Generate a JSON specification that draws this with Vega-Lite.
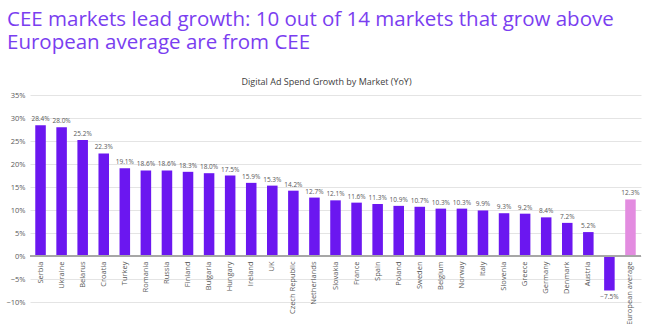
{
  "$schema": "https://vega.github.io/schema/vega-lite/v6.json",
  "width": 611,
  "height": 207,
  "autosize": "none",
  "padding": {"left": 30, "top": 95, "right": 14, "bottom": 22},
  "background": "white",
  "title": {
    "text": ["CEE markets lead growth: 10 out of 14 markets that grow above", "European average are from CEE"],
    "anchor": "start",
    "frame": "group",
    "color": "#7a3ef0",
    "font": "Open Sans",
    "fontSize": 20.5,
    "fontWeight": "normal",
    "lineHeight": 23,
    "baseline": "bottom",
    "dx": -23,
    "offset": 4
  },
  "config": {
    "view": {"stroke": null},
    "font": "Open Sans",
    "axis": {"labelColor": "#595959", "labelFont": "Open Sans", "titleFont": "Open Sans"}
  },
  "data": {
    "values": [
      {"market": "Serbia", "growth": 0.284, "kind": "market"},
      {"market": "Ukraine", "growth": 0.280, "kind": "market"},
      {"market": "Belarus", "growth": 0.252, "kind": "market"},
      {"market": "Croatia", "growth": 0.223, "kind": "market"},
      {"market": "Turkey", "growth": 0.191, "kind": "market"},
      {"market": "Romania", "growth": 0.186, "kind": "market"},
      {"market": "Russia", "growth": 0.186, "kind": "market"},
      {"market": "Finland", "growth": 0.183, "kind": "market"},
      {"market": "Bulgaria", "growth": 0.180, "kind": "market"},
      {"market": "Hungary", "growth": 0.175, "kind": "market"},
      {"market": "Ireland", "growth": 0.159, "kind": "market"},
      {"market": "UK", "growth": 0.153, "kind": "market"},
      {"market": "Czech Republic", "growth": 0.142, "kind": "market"},
      {"market": "Netherlands", "growth": 0.127, "kind": "market"},
      {"market": "Slovakia", "growth": 0.121, "kind": "market"},
      {"market": "France", "growth": 0.116, "kind": "market"},
      {"market": "Spain", "growth": 0.113, "kind": "market"},
      {"market": "Poland", "growth": 0.109, "kind": "market"},
      {"market": "Sweden", "growth": 0.107, "kind": "market"},
      {"market": "Belgium", "growth": 0.103, "kind": "market"},
      {"market": "Norway", "growth": 0.103, "kind": "market"},
      {"market": "Italy", "growth": 0.099, "kind": "market"},
      {"market": "Slovenia", "growth": 0.093, "kind": "market"},
      {"market": "Greece", "growth": 0.092, "kind": "market"},
      {"market": "Germany", "growth": 0.084, "kind": "market"},
      {"market": "Denmark", "growth": 0.072, "kind": "market"},
      {"market": "Austria", "growth": 0.052, "kind": "market"},
      {"market": "Switzerland", "growth": -0.075, "kind": "market"},
      {"market": "European average", "growth": 0.123, "kind": "average"}
    ]
  },
  "resolve": {"axis": {"x": "independent"}},
  "encoding": {
    "y": {
      "field": "growth", "type": "quantitative",
      "scale": {"domain": [-0.1, 0.35], "nice": false},
      "axis": {
        "title": null, "format": ".0%", "values": [-0.1, -0.05, 0, 0.05, 0.1, 0.15, 0.2, 0.25, 0.3, 0.35],
        "ticks": false, "domain": false, "labelFontSize": 7.5, "labelPadding": 5,
        "labelOverlap": false, "labelFlush": false,
        "gridColor": "#e4e4e4", "gridWidth": 1, "zindex": 0
      }
    }
  },
  "layer": [
    {
      "mark": {"type": "bar"},
      "encoding": {
        "x": {
          "field": "market", "type": "nominal", "sort": null,
          "scale": {"paddingInner": 0.5, "paddingOuter": 0.25},
          "axis": {
            "orient": "bottom", "offset": -46, "title": null, "labelAngle": -90,
            "labelFontSize": 7.5, "ticks": false, "domain": false, "labelPadding": 5,
            "zindex": 0,
            "labelExpr": "datum.label == 'Switzerland' ? '' : datum.label"
          }
        },
        "color": {
          "field": "kind", "type": "nominal",
          "scale": {"domain": ["market", "average"], "range": ["#6b17f0", "#e38ce0"]},
          "legend": null
        }
      }
    },
    {
      "mark": {"type": "rule", "color": "#a6a6a6", "strokeWidth": 1},
      "encoding": {"y": {"datum": 0, "type": "quantitative"}}
    },
    {
      "transform": [{"filter": "datum.growth >= 0"}],
      "mark": {"type": "text", "baseline": "bottom", "dy": -3, "fontSize": 6.5, "color": "#595959"},
      "encoding": {
        "x": {
          "field": "market", "type": "nominal", "sort": null,
          "axis": {
            "orient": "top", "labels": false, "ticks": false, "domain": false,
            "title": "Digital Ad Spend Growth by Market (YoY)", "titleX": 296, "titleAnchor": "middle",
            "titleFontSize": 9, "titleFontWeight": "normal", "titleColor": "#404040", "titlePadding": 9
          }
        },
        "text": {"field": "growth", "type": "quantitative", "format": ".1%"}
      }
    },
    {
      "transform": [{"filter": "datum.growth < 0"}],
      "mark": {"type": "text", "baseline": "top", "dy": 3, "fontSize": 6.5, "color": "#595959"},
      "encoding": {
        "x": {"field": "market", "type": "nominal", "sort": null, "axis": null},
        "text": {"field": "growth", "type": "quantitative", "format": ".1%"}
      }
    }
  ]
}
